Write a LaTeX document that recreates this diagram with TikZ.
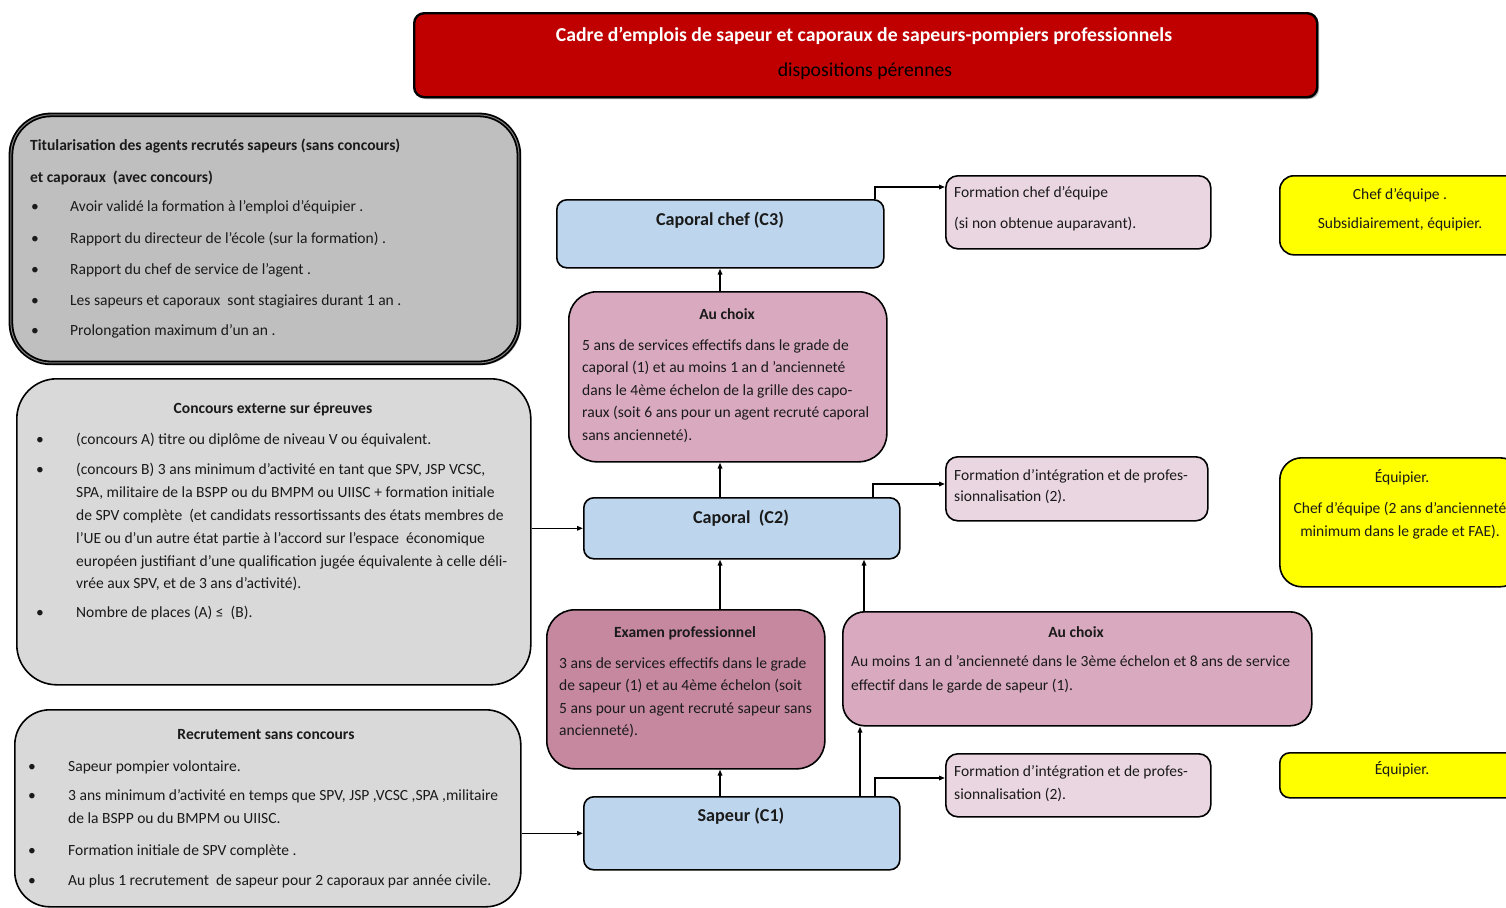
\documentclass[tikz,border=0pt]{standalone}
\usepackage{fontspec}
\setmainfont{Carlito}
\usetikzlibrary{arrows.meta,calc}
\definecolor{redbox}{HTML}{C00000}
\definecolor{grayA}{HTML}{BFBFBF}
\definecolor{grayB}{HTML}{D9D9D9}
\definecolor{blueG}{HTML}{BDD6EE}
\definecolor{pinkA}{HTML}{D9AABF}
\definecolor{pinkB}{HTML}{C5889F}
\definecolor{pinkC}{HTML}{EAD6E1}
\definecolor{yel}{HTML}{FFFF00}
\definecolor{txtc}{HTML}{1A1A1A}
\definecolor{shad}{HTML}{A6A6A6}
\newcounter{tn}
\newcommand{\bx}[6]{\node[#2, anchor=north west, minimum width={(#5-#3)*1bp}, minimum height={(#6-#4)*1bp}, inner sep=0pt] (#1) at (#3,#4) {};}
\newcommand{\tl}[3]{\stepcounter{tn}\node[txt, anchor=mid west] (t\thetn) at (#1,#2) {#3};}
\newcommand{\tlb}[3]{\stepcounter{tn}\node[txt, font=\fontsize{15.6}{18}\selectfont\bfseries, anchor=mid west] (t\thetn) at (#1,#2) {#3};}
\newcommand{\tc}[3]{\stepcounter{tn}\node[txt, anchor=mid] (t\thetn) at (#1,#2) {#3};}
\newcommand{\tcb}[3]{\stepcounter{tn}\node[txt, font=\fontsize{15.6}{18}\selectfont\bfseries, anchor=mid] (t\thetn) at (#1,#2) {#3};}
\newcommand{\bul}[4]{\stepcounter{tn}\node[txt, anchor=mid] (t\thetn) at (#1,#3) {•};\tl{#2}{#3}{#4}}
\tikzset{
 txt/.style={inner sep=0pt, yshift=-3bp, font=\fontsize{15.6}{18}\selectfont, text=txtc},
 lbl/.style={inner sep=0pt, yshift=-3bp, font=\fontsize{18.2}{22}\selectfont\bfseries, text=txtc, anchor=mid},
 box/.style={draw=black, line width=1.6bp},
 arr/.style={draw=black, line width=1.5bp, -{Triangle[length=6bp,width=4.5bp]}},
}
\begin{document}
\begin{tikzpicture}[x=1bp,y=-1bp]
\useasboundingbox (0,0) rectangle (1506,907);
\clip (0,0) rectangle (1506,907);
\fill[white] (0,0) rectangle (1506,907);
% shadows
\fill[shad, rounded corners=10bp] (416,15) rectangle (1319,99);
\fill[shad, rounded corners=40bp] (13,117) rectangle (521,365);
% boxes
\bx{title}{box, line width=2.4bp, fill=redbox, rounded corners=10bp}{413}{12}{1316}{96}
\bx{tit}{draw=black, line width=1.8bp, double=gray, double distance=1bp, fill=grayA, rounded corners=40bp}{10}{114}{518}{362}
\bx{conc}{box, fill=grayB, rounded corners=40bp}{16}{378}{530}{684}
\bx{rec}{box, fill=grayB, rounded corners=35bp}{14}{709}{520}{906}
\bx{c3}{box, fill=blueG, rounded corners=10bp}{556}{199}{883}{267}
\bx{au1}{box, fill=pinkA, rounded corners=28bp}{568}{291}{886}{461}
\bx{c2}{box, fill=blueG, rounded corners=10bp}{583}{497}{899}{558}
\bx{exam}{box, fill=pinkB, rounded corners=28bp}{546}{609}{824}{768}
\bx{au2}{box, fill=pinkA, rounded corners=22bp}{842}{611}{1311}{725}
\bx{c1}{box, fill=blueG, rounded corners=10bp}{583}{796}{899}{869}
\bx{f3}{box, fill=pinkC, rounded corners=12bp}{945}{175}{1210}{248}
\bx{f2}{box, fill=pinkC, rounded corners=12bp}{945}{456}{1207}{520}
\bx{f1}{box, fill=pinkC, rounded corners=12bp}{945}{753}{1210}{816}
\bx{y3}{box, fill=yel, rounded corners=14bp}{1279}{175}{1521}{254}
\bx{y2}{box, fill=yel, rounded corners=22bp}{1279}{457}{1521}{586}
\bx{y1}{box, fill=yel, rounded corners=10bp}{1279}{752}{1521}{797}
% title texts
\node[lbl, font=\fontsize{19.8}{24}\selectfont\bfseries, text=white] (tt1) at (864,36) {Cadre d’emplois de sapeur et caporaux de sapeurs-pompiers professionnels};
\node[lbl, font=\fontsize{19.8}{24}\selectfont, text=black] (tt2) at (865,71) {dispositions pérennes};
% titularisation
\tlb{30}{145}{Titularisation des agents recrutés sapeurs (sans concours)}
\tlb{30}{177}{et caporaux \ (avec concours)}
\bul{35}{70}{206}{Avoir validé la formation à l’emploi d’équipier .}
\bul{35}{70}{238}{Rapport du directeur de l’école (sur la formation) .}
\bul{35}{70}{269}{Rapport du chef de service de l’agent .}
\bul{35}{70}{300}{Les sapeurs et caporaux \ sont stagiaires durant 1 an .}
\bul{35}{70}{330}{Prolongation maximum d’un an .}
% concours
\tcb{273}{408}{Concours externe sur épreuves}
\bul{40}{76}{439}{(concours A) titre ou diplôme de niveau V ou équivalent.}
\bul{40}{76}{469}{(concours B) 3 ans minimum d’activité en tant que SPV, JSP VCSC,}
\tl{76}{492}{SPA, militaire de la BSPP ou du BMPM ou UIISC + formation initiale}
\tl{76}{515}{de SPV complète \ (et candidats ressortissants des états membres de}
\tl{76}{538}{l’UE ou d’un autre état partie à l’accord sur l’espace \ économique}
\tl{76}{561}{européen justifiant d’une qualification jugée équivalente à celle déli-}
\tl{76}{583}{vrée aux SPV, et de 3 ans d’activité).}
\bul{40}{76}{612}{Nombre de places (A) ≤ \ (B).}
% recrutement
\tcb{266}{734}{Recrutement sans concours}
\bul{32}{68}{766}{Sapeur pompier volontaire.}
\bul{32}{68}{795}{3 ans minimum d’activité en temps que SPV, JSP ,VCSC ,SPA ,militaire}
\tl{68}{818}{de la BSPP ou du BMPM ou UIISC.}
\bul{32}{68}{850}{Formation initiale de SPV complète .}
\bul{32}{68}{880}{Au plus 1 recrutement \ de sapeur pour 2 caporaux par année civile.}
% grades
\node[lbl] (l3) at (720,220) {Caporal chef (C3)};
\node[lbl] (l2) at (741,518) {Caporal \ (C2)};
\node[lbl] (l1) at (741,816) {Sapeur (C1)};
% au choix 1
\tcb{727}{314}{Au choix}
\tl{582}{345}{5 ans de services effectifs dans le grade de}
\tl{582}{367}{caporal (1) et au moins 1 an d ’ancienneté}
\tl{582}{390}{dans le 4ème échelon de la grille des capo-}
\tl{582}{412}{raux (soit 6 ans pour un agent recruté caporal}
\tl{582}{435}{sans ancienneté).}
% examen
\tcb{685}{632}{Examen professionnel}
\tl{559}{663}{3 ans de services effectifs dans le grade}
\tl{559}{685}{de sapeur (1) et au 4ème échelon (soit}
\tl{559}{708}{5 ans pour un agent recruté sapeur sans}
\tl{559}{730}{ancienneté).}
% au choix 2
\tcb{1076}{632}{Au choix}
\tl{851}{661}{Au moins 1 an d ’ancienneté dans le 3ème échelon et 8 ans de service}
\tl{851}{685}{effectif dans le garde de sapeur (1).}
% formations
\tl{954}{192}{Formation chef d’équipe}
\tl{954}{223}{(si non obtenue auparavant).}
\tl{954}{475}{Formation d’intégration et de profes-}
\tl{954}{496}{sionnalisation (2).}
\tl{954}{771}{Formation d’intégration et de profes-}
\tl{954}{794}{sionnalisation (2).}
% yellow
\tc{1400}{194}{Chef d’équipe .}
\tc{1400}{223}{Subsidiairement, équipier.}
\tc{1402}{477}{Équipier.}
\tc{1400}{508}{Chef d’équipe (2 ans d’ancienneté}
\tc{1400}{531}{minimum dans le grade et FAE).}
\tc{1402}{769}{Équipier.}
% connectors
\coordinate (sp) at (720,0);
\coordinate (sr) at (864,0);
\coordinate (sq) at (860,0);
\coordinate (k3) at (875,187);
\coordinate (k2) at (873,484);
\coordinate (k1) at (875,778);
\draw[arr] (conc.east |- c2.west) -- (c2.west);
\draw[arr] (rec.east |- c1.west) -- (c1.west);
\draw[arr] (sp |- au1.north) -- (sp |- c3.south);
\draw[arr] (sp |- c2.north) -- (sp |- au1.south);
\draw[arr] (sp |- exam.north) -- (sp |- c2.south);
\draw[arr] (sp |- c1.north) -- (sp |- exam.south);
\draw[arr] (sr |- au2.north) -- (sr |- c2.south);
\draw[arr] (sq |- c1.north) -- (sq |- au2.south);
\draw[arr] (k3 |- c3.north) -- (k3) -- (k3 -| f3.west);
\draw[arr] (k2 |- c2.north) -- (k2) -- (k2 -| f2.west);
\draw[arr] (k1 |- c1.north) -- (k1) -- (k1 -| f1.west);
\end{tikzpicture}
\end{document}
